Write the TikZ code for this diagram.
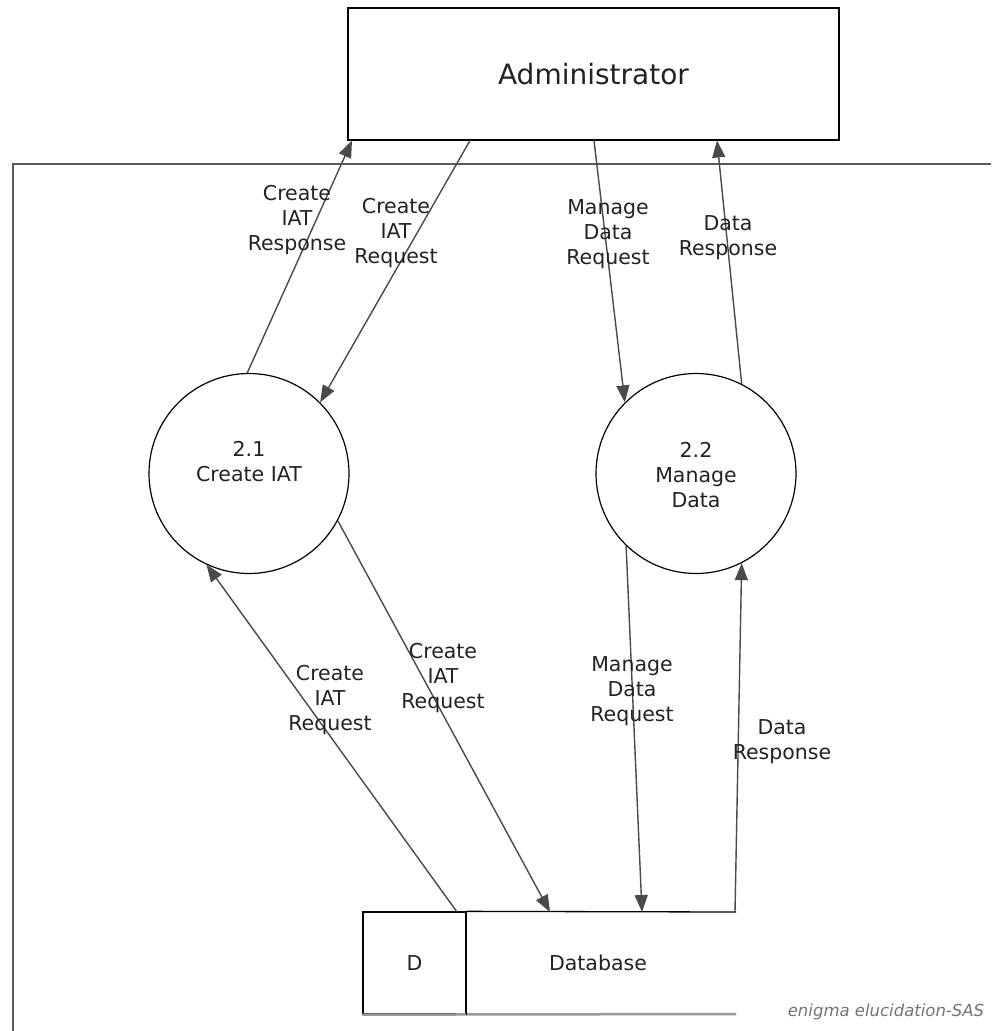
\documentclass[tikz,border=0pt]{standalone}
\usepackage{fontspec}
\setmainfont{DejaVu Sans}
\usetikzlibrary{arrows.meta}
\definecolor{txt}{HTML}{222222}
\definecolor{arr}{HTML}{4A4A4A}
\definecolor{frm}{HTML}{5A5A5A}
\tikzset{
  entity/.style={draw=black, line width=1.3pt, minimum width=491pt, minimum height=132pt, inner sep=0pt, font=\fontsize{28}{34}\selectfont, text=txt},
  proc/.style={draw=black, circle, line width=1.2pt, minimum size=200pt, inner sep=0pt, align=center, font=\fontsize{20.5}{25}\selectfont, text=txt},
  flow/.style={draw=arr, line width=1.4pt, -{Triangle[length=17pt,width=13pt]}, fill=arr},
  lbl/.style={align=center, font=\fontsize{20.5}{25}\selectfont, text=txt, inner sep=0pt},
  dbtxt/.style={font=\fontsize{20.5}{25}\selectfont, text=txt, inner sep=0pt},
}
\begin{document}
\begin{tikzpicture}[x=1pt,y=-1pt]
\useasboundingbox (0,0) rectangle (991,1031);
% frame
\draw[frm, line width=2pt] (12.5,1031) -- (12.5,164) -- (991,164);
% administrator
\node[entity] (admin) at (593.5,74) {Administrator};
% processes
\node[proc] (p21) at (249,473.5) {};
\node[lbl] (p21t) at (249,462) {2.1\\Create IAT};
\node[proc] (p22) at (696,473.5) {};
\node[lbl] (p22t) at (696,475) {2.2\\Manage\\Data};
% database
\node[draw=black, line width=1.3pt, minimum width=103pt, minimum height=102pt, inner sep=0pt, dbtxt] (dbD) at (414.5,963) {D};
\node[dbtxt] (db) at (598,963) {Database};
\coordinate (dbtr) at (736,912);
\coordinate (dbbr) at (736,1014);
\draw[black, line width=1.3pt] (dbD.north east) -- (dbtr);
\draw[gray!80, line width=2.5pt] (dbD.south west) -- (dbbr);
\draw[black, line width=1.3pt] (dbD.north east) -- (dbD.south east);
% admin attachment points
\coordinate (a1) at (352,140.5);
\coordinate (a2) at (470,140.5);
\coordinate (a3) at (594,140.5);
\coordinate (a4) at (717,140.5);
% database attachment points
\coordinate (d5) at (457,912);
\coordinate (d6) at (550,912);
\coordinate (d7) at (642,912);
\coordinate (d8) at (735,912);
% flows
\draw[flow] (p21.91) -- (a1);
\draw[flow] (a2) -- (p21.45);
\draw[flow] (a3) -- (p22.135);
\draw[flow] (p22.63.6) -- (a4);
\draw[flow] (d5) -- (p21.245.6);
\draw[flow] (p21.332.4) -- (d6);
\draw[flow] (p22.226.4) -- (d7);
\draw[flow] (d8) -- (p22.297.7);
% labels
\node[lbl] (l1) at (297,220) {Create\\IAT\\Response};
\node[lbl] (l2) at (396,233) {Create\\IAT\\Request};
\node[lbl] (l3) at (608,234) {Manage\\Data\\Request};
\node[lbl] (l4) at (728,238) {Data\\Response};
\node[lbl] (l5) at (330,700) {Create\\IAT\\Request};
\node[lbl] (l6) at (443,678) {Create\\IAT\\Request};
\node[lbl] (l7) at (632,691) {Manage\\Data\\Request};
\node[lbl] (l8) at (782,742) {Data\\Response};
% watermark
\node[font=\fontsize{16.5}{19}\selectfont\itshape, text=gray!90!black, inner sep=0pt] (wm) at (886,1012) {enigma elucidation-SAS};
\end{tikzpicture}
\end{document}
